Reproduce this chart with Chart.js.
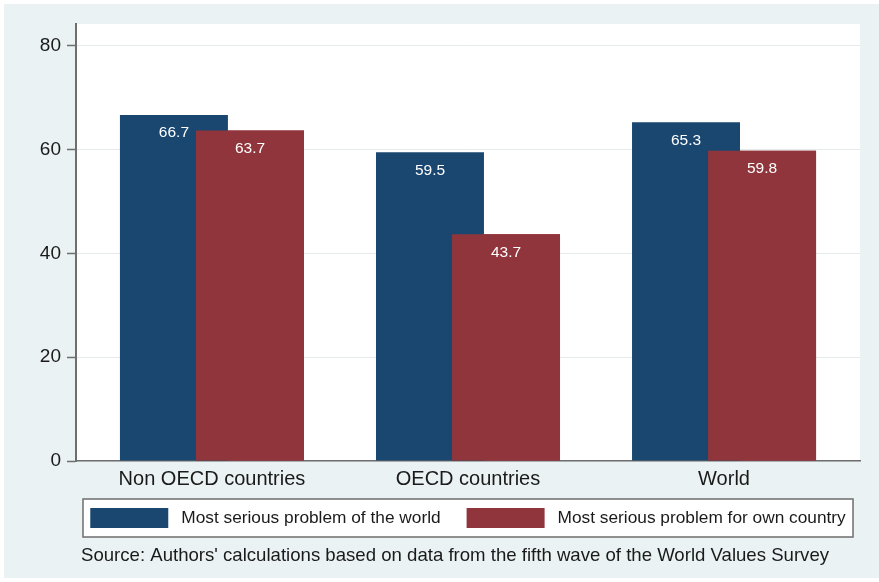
<!DOCTYPE html>
<html>
<head>
<meta charset="utf-8">
<script src="https://cdn.jsdelivr.net/npm/chart.js@4/dist/chart.umd.min.js"></script>
<style>
  body { margin: 0; background: #ffffff; }
  #wrap { width: 879px; height: 582px; position: relative; }
</style>
</head>
<body>
<div id="wrap"><canvas id="myChart"></canvas></div>
<script>
// values per group
const categories = ['Non OECD countries', 'OECD countries', 'World'];
const worldProblem = [66.7, 59.5, 65.3];
const ownCountryProblem = [63.7, 43.7, 59.8];
const yTicks = [0, 20, 40, 60, 80];
const seriesNames = ['Most serious problem of the world', 'Most serious problem for own country'];
const sourceNote = "Source: Authors' calculations based on data from the fifth wave of the World Values Survey";

const NAVY = '#1a476f';
const MAROON = '#90353b';
const PANEL = '#eaf2f3';
const FONT = '"Liberation Sans", Arial, Helvetica, sans-serif';

// background panel, plot region, red bars on top, labels, legend box and note
const frame = {
    id: 'frame',
    beforeDraw(chart) {
        const ctx = chart.ctx;
        const a = chart.chartArea;
        ctx.save();
        ctx.fillStyle = '#ffffff';
        ctx.fillRect(0, 0, chart.width, chart.height);
        ctx.fillStyle = PANEL;
        ctx.fillRect(4, 4, chart.width - 4, chart.height - 8);
        ctx.fillStyle = '#ffffff';
        ctx.fillRect(a.left, a.top, a.right - a.left, a.bottom - a.top);
        ctx.restore();
    },
    afterDatasetsDraw(chart) {
        const ctx = chart.ctx;
        // the second series overlaps the first one
        chart.getDatasetMeta(1).data.forEach(el => el.draw(ctx));

        ctx.save();
        ctx.font = '15.5px ' + FONT;
        ctx.fillStyle = '#ffffff';
        ctx.textAlign = 'center';
        ctx.textBaseline = 'middle';
        chart.data.datasets.forEach((ds, di) => {
            chart.getDatasetMeta(di).data.forEach((bar, i) => {
                ctx.fillText(ds.data[i].y.toFixed(1), bar.x, bar.y + 18);
            });
        });
        ctx.restore();
    },
    afterDraw(chart) {
        const ctx = chart.ctx;
        const a = chart.chartArea;
        ctx.save();

        // legend
        const boxTop = a.bottom + 38;
        const boxH = 38;
        ctx.fillStyle = '#ffffff';
        ctx.fillRect(a.left + 7, boxTop, a.right - a.left - 14, boxH);
        ctx.strokeStyle = '#6e6e6e';
        ctx.lineWidth = 1.5;
        ctx.strokeRect(a.left + 7, boxTop, a.right - a.left - 14, boxH);

        ctx.font = '17.3px ' + FONT;
        ctx.textBaseline = 'middle';
        ctx.textAlign = 'left';
        const sw = 78, gap = 13, between = 26;
        const widths = chart.data.datasets.map(ds => ctx.measureText(ds.label).width);
        const total = widths.reduce((s, w) => s + sw + gap + w, 0) + between;
        let x = (a.left + a.right) / 2 - total / 2;
        const midY = boxTop + boxH / 2;
        chart.data.datasets.forEach((ds, i) => {
            ctx.fillStyle = ds.backgroundColor;
            ctx.fillRect(x, midY - 10, sw, 20);
            ctx.fillStyle = '#1a1a1a';
            ctx.fillText(ds.label, x + sw + gap, midY);
            x += sw + gap + widths[i] + between;
        });

        // note
        ctx.font = '18.6px ' + FONT;
        ctx.fillStyle = '#1a1a1a';
        ctx.fillText(sourceNote, a.left + 5, a.bottom + 95);
        ctx.restore();
    }
};

const ctx = document.getElementById('myChart').getContext('2d');
new Chart(ctx, {
    type: 'bar',
    data: {
        datasets: [{
            label: seriesNames[0],
            data: worldProblem.map((v, i) => ({ x: i, y: v })),
            backgroundColor: NAVY
        }, {
            label: seriesNames[1],
            data: ownCountryProblem.map((v, i) => ({ x: i, y: v })),
            backgroundColor: MAROON
        }]
    },
    options: {
        responsive: true,
        maintainAspectRatio: false,
        animation: false,
        categoryPercentage: 0.594,
        barPercentage: 1.42,
        layout: {
            padding: { top: 24, right: 19, bottom: 81, left: 0 }
        },
        scales: {
            x: {
                type: 'linear',
                offset: false,
                min: -0.531,
                max: 2.531,
                afterBuildTicks: scale => {
                    scale.ticks = categories.map((c, i) => ({ value: i }));
                },
                afterFit: scale => { scale.height = 40; },
                grid: { display: true, offset: false, drawOnChartArea: false, drawTicks: false },
                border: { color: '#6e6e6e', width: 1.5 },
                ticks: {
                    padding: 6,
                    color: '#1a1a1a',
                    font: { family: FONT, size: 20 },
                    callback: v => categories[v]
                }
            },
            y: {
                min: 0,
                max: 84.24,
                afterBuildTicks: scale => {
                    scale.ticks = yTicks.map(v => ({ value: v }));
                },
                afterFit: scale => { scale.width = 76; },
                grid: { color: '#e3ebed', lineWidth: 1, tickLength: 9, tickColor: '#6e6e6e', tickWidth: 1.5 },
                border: { color: '#6e6e6e', width: 2 },
                ticks: {
                    padding: 6,
                    color: '#1a1a1a',
                    font: { family: FONT, size: 19 }
                }
            }
        },
        plugins: {
            legend: { display: false },
            tooltip: { enabled: false }
        }
    },
    plugins: [frame]
});
</script>
</body>
</html>
